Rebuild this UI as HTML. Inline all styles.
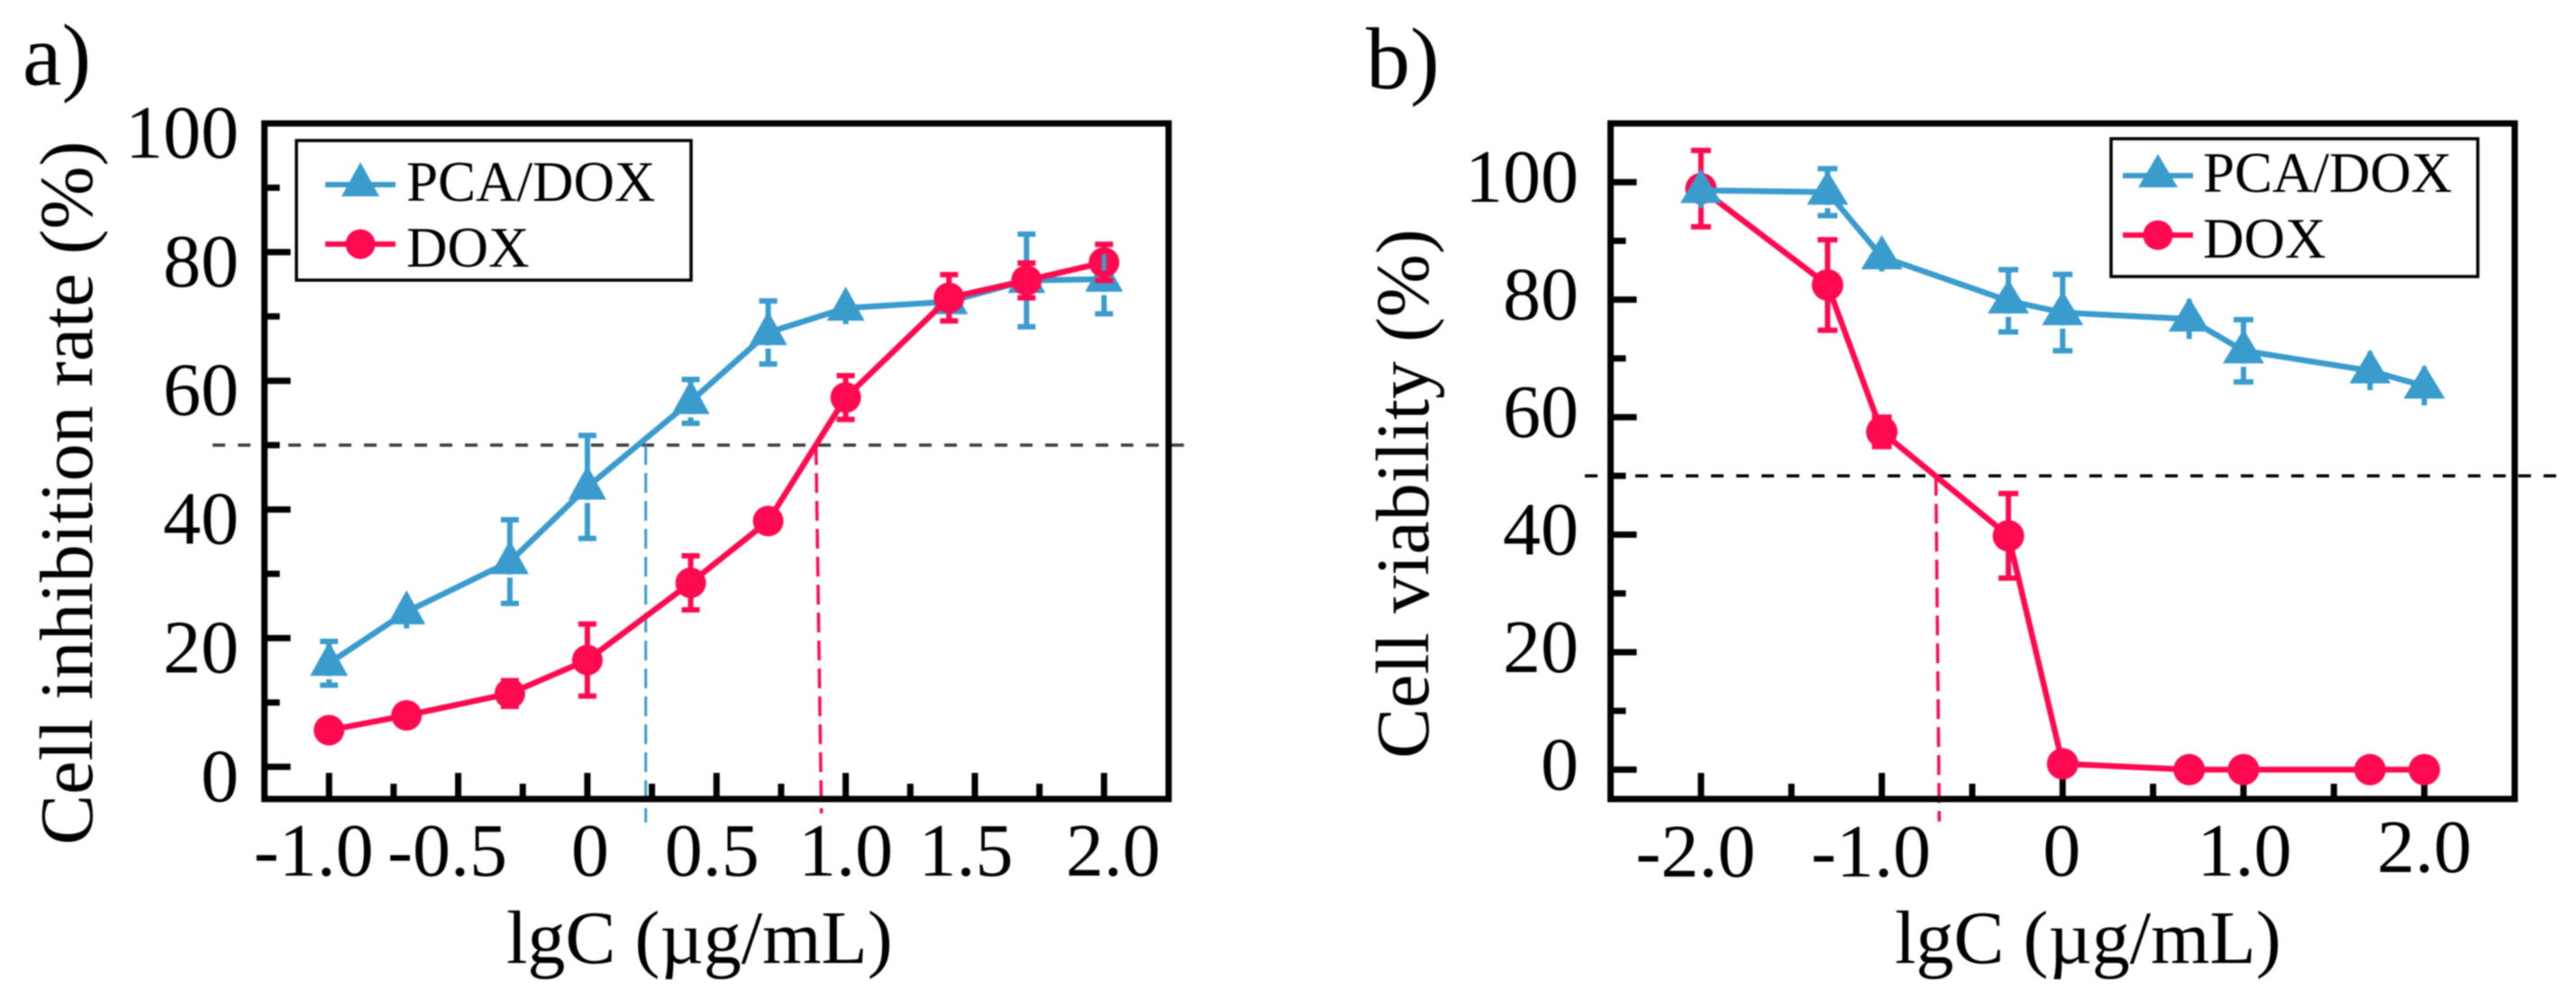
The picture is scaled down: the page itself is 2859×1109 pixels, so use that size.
<!DOCTYPE html>
<html lang="en">
<head>
<meta charset="utf-8">
<title>Cell inhibition rate and cell viability</title>
<style>
  html, body { margin: 0; padding: 0; background: #fff; }
  svg { display: block; filter: blur(0.8px); }
  text { font-family: "Liberation Serif", "Times New Roman", serif; fill: #000; }
</style>
</head>
<body>
<svg id="figure" xmlns="http://www.w3.org/2000/svg" width="2859" height="1109" viewBox="0 0 2859 1109">
  <rect x="0" y="0" width="2859" height="1109" fill="#fff"/>

  <g id="panel-a">
    <text x="25" y="94" font-size="98">a)</text>
    <text transform="translate(102 938) rotate(-90)" font-size="84">Cell inhibition rate (%)</text>
    <text x="562" y="1069" font-size="84">lgC (µg/mL)</text>
  </g>

  <g id="panel-b">
    <text x="1516" y="98" font-size="98">b)</text>
    <text transform="translate(1585 842) rotate(-90)" font-size="84">Cell viability (%)</text>
    <text x="2103" y="1069" font-size="84">lgC (µg/mL)</text>
  </g>

  <g id="legend-a">
    <rect x="329" y="156" width="438" height="155" fill="#fff" stroke="#000" stroke-width="3.5"/>
    <g>
      <line x1="361" y1="205" x2="439" y2="205" stroke="#3a9bcd" stroke-width="6"/>
      <polygon points="400,180 379,218 421,218" fill="#3a9bcd"/>
      <text x="451" y="223" font-size="63">PCA/DOX</text>
    </g>
    <g>
      <line x1="361" y1="271" x2="439" y2="271" stroke="#ff0a50" stroke-width="6"/>
      <circle cx="400" cy="271" r="16.5" fill="#ff0a50"/>
      <text x="451" y="296" font-size="63">DOX</text>
    </g>
  </g>

  <g id="legend-b">
    <rect x="2343" y="154" width="407" height="153" fill="#fff" stroke="#000" stroke-width="3.5"/>
    <g>
      <line x1="2356" y1="195" x2="2434" y2="195" stroke="#3a9bcd" stroke-width="6"/>
      <polygon points="2395,171 2373,208 2417,208" fill="#3a9bcd"/>
      <text x="2445" y="213" font-size="63">PCA/DOX</text>
    </g>
    <g>
      <line x1="2356" y1="261" x2="2434" y2="261" stroke="#ff0a50" stroke-width="6"/>
      <circle cx="2395" cy="261" r="16.5" fill="#ff0a50"/>
      <text x="2445" y="286" font-size="63">DOX</text>
    </g>
  </g>
</svg>

<script>
// ---------- Panel a data ----------
const concentrationA = [-1.0, -0.7, -0.3, 0, 0.4, 0.7, 1.0, 1.4, 1.7, 2.0];
const pcaMeanA = [16.1, 24.1, 31.9, 43.5, 56.8, 67.5, 71.3, 72.3, 75.6, 75.8];
const pcaErrorA = [3.4, 2.6, 6.5, 8.0, 3.4, 4.9, 2.5, 3.0, 7.2, 5.4];
const doxMeanA = [5.7, 8.0, 11.4, 16.6, 28.6, 38.2, 57.4, 72.9, 75.6, 78.4];
const doxErrorA = [1.5, 1.3, 2.0, 5.6, 4.2, 1.5, 3.4, 3.6, 2.7, 2.8];
const thresholdA = 50;
const ic50PcaA = [0.226, 0.226];
const ic50DoxA = [0.885, 0.906];
const yTicksA = [0, 20, 40, 60, 80, 100];
const yMinorTicksA = [10, 30, 50, 70, 90];
const xTicksA = [-1.0, -0.5, 0, 0.5, 1.0, 1.5, 2.0];
const xTickLabelsA = ['-1.0', '-0.5', '0', '0.5', '1.0', '1.5', '2.0'];
const xMinorTicksA = [-0.75, -0.25, 0.25, 0.75, 1.25, 1.75];

// ---------- Panel b data ----------
const concentrationB = [-2.0, -1.3, -1.0, -0.3, 0, 0.7, 1.0, 1.7, 2.0];
const pcaMeanB = [98.6, 98.3, 87.3, 79.8, 77.8, 76.7, 71.3, 67.9, 65.3];
const pcaErrorB = [3.0, 4.0, 2.5, 5.3, 6.5, 3.4, 5.3, 3.3, 3.3];
const doxMeanB = [98.9, 82.5, 57.5, 39.8, 1.0, 0, 0, 0, 0];
const doxErrorB = [6.5, 7.7, 2.5, 7.2, 0, 0, 0, 0, 0];
const thresholdB = 50;
const ic50DoxB = [-0.701, -0.682];
const yTicksB = [0, 20, 40, 60, 80, 100];
const yMinorTicksB = [10, 30, 50, 70, 90];
const xTicksB = [-2.0, -1.0, 0, 1.0, 2.0];
const xTickLabelsB = ['-2.0', '-1.0', '0', '1.0', '2.0'];
const xMinorTicksB = [-1.5, -0.5, 0.5, 1.5];

// Hand-placed label offsets seen in the original artwork (pixels)
const xLabelNudgeA = [-17, -12, 3, -5, 0, -10, 10];
const xLabelNudgeB = [-6, -12, -1, 1, 0];
const xLabelDropB = [973, 973, 972, 972, 968];

// ---------- Styling constants ----------
const BLUE = '#3a9bcd';
const PINK = '#ff0a50';
const NS = 'http://www.w3.org/2000/svg';
const figure = document.getElementById('figure');

function add(tag, attrs, parent) {
  const node = document.createElementNS(NS, tag);
  for (const key in attrs) node.setAttribute(key, attrs[key]);
  parent.appendChild(node);
  return node;
}

function linearScale(d0, d1, r0, r1) {
  return function (v) { return r0 + (v - d0) * (r1 - r0) / (d1 - d0); };
}

function errorPath(px, yHigh, yLow, capHalf) {
  return 'M' + px + ' ' + yHigh + 'V' + yLow +
    'M' + (px - capHalf) + ' ' + yHigh + 'H' + (px + capHalf) +
    'M' + (px - capHalf) + ' ' + yLow + 'H' + (px + capHalf);
}

function polyPoints(xs, ys, sx, sy) {
  return xs.map(function (v, i) { return sx(v) + ',' + sy(ys[i]); }).join(' ');
}

function drawDashed(host, opts) {
  const hLine = add('line', {
    x1: opts.hFrom, x2: opts.hTo, y1: opts.sy(opts.threshold), y2: opts.sy(opts.threshold),
    stroke: opts.hColor, 'stroke-width': 3.5, 'stroke-dasharray': '14 14'
  }, host);
  
  
}

function drawVertical(host, xPair, yEnd, threshold, sx, sy, color, width) {
  return add('line', {
    x1: sx(xPair[0]), x2: sx(xPair[1]), y1: sy(threshold), y2: yEnd,
    stroke: color, 'stroke-width': width, 'stroke-dasharray': '22 9'
  }, host);
}

function drawAxes(host, box, sx, sy, xTicks, xLabels, xMinor, yTicks, yMinor, labelOpts) {
  const frame = add('rect', {
    x: box.left, y: box.top, width: box.right - box.left, height: box.bottom - box.top,
    fill: 'none', stroke: '#000', 'stroke-width': 7
  }, host);
  
  

  xTicks.forEach(function (v, i) {
    const tick = add('line', {
      x1: sx(v), x2: sx(v), y1: box.bottom, y2: box.bottom - 29, stroke: '#000', 'stroke-width': 7
    }, host);
    
    

    const label = add('text', {
      x: sx(v) + labelOpts.nudge[i], y: labelOpts.baseline(i), 'font-size': 84, 'text-anchor': 'middle'
    }, host);
    label.textContent = xLabels[i];
    
    
  });

  xMinor.forEach(function (v) {
    const tick = add('line', {
      x1: sx(v), x2: sx(v), y1: box.bottom, y2: box.bottom - 17, stroke: '#000', 'stroke-width': 7
    }, host);
    
    
  });

  yTicks.forEach(function (v) {
    const tick = add('line', {
      x1: box.left, x2: box.left + 29, y1: sy(v), y2: sy(v), stroke: '#000', 'stroke-width': 7
    }, host);
    
    

    const label = add('text', {
      x: labelOpts.yLabelX, y: sy(v) + labelOpts.yLabelDrop, 'font-size': 84, 'text-anchor': 'end'
    }, host);
    label.textContent = String(v);
    
    
  });

  yMinor.forEach(function (v) {
    const tick = add('line', {
      x1: box.left, x2: box.left + 17, y1: sy(v), y2: sy(v), stroke: '#000', 'stroke-width': 7
    }, host);
    
    
  });
}

function drawPca(host, xs, means, errors, sx, sy, halfWidth, capHalf) {
  const group = add('g', {}, host);
  
  

  const line = add('polyline', {
    points: polyPoints(xs, means, sx, sy), fill: 'none', stroke: BLUE,
    'stroke-width': 6.5, 'stroke-linejoin': 'round'
  }, group);
  
  

  xs.forEach(function (v, i) {
    const px = sx(v);
    const py = sy(means[i]);
    // Short error bars disappear behind the triangle, leaving only the stem showing
    const hasCaps = (sy(means[i] - errors[i]) - py) >= 23;

    const bar = add('path', {
      d: errorPath(px, sy(means[i] + errors[i]), sy(means[i] - errors[i]), hasCaps ? capHalf : 0),
      fill: 'none', stroke: BLUE, 'stroke-width': 6
    }, group);
    
    

    if (hasCaps) {
      const gap = add('line', {
        x1: px - 5, x2: px + 5, y1: py + 16, y2: py + 16, stroke: '#fff', 'stroke-width': 3.5
      }, group);
      
      
    }

    const marker = add('polygon', {
      points: px + ',' + (py - 24) + ' ' + (px - halfWidth) + ',' + (py + 14) + ' ' + (px + halfWidth) + ',' + (py + 14),
      fill: BLUE
    }, group);
    
    
  });
}

function drawDox(host, xs, means, errors, sx, sy, radius, capHalf) {
  const group = add('g', {}, host);
  
  

  const line = add('polyline', {
    points: polyPoints(xs, means, sx, sy), fill: 'none', stroke: PINK,
    'stroke-width': 6.5, 'stroke-linejoin': 'round'
  }, group);
  
  

  xs.forEach(function (v, i) {
    const px = sx(v);
    const py = sy(means[i]);

    if (errors[i] > 0) {
      const bar = add('path', {
        d: errorPath(px, sy(means[i] + errors[i]), sy(means[i] - errors[i]), capHalf),
        fill: 'none', stroke: PINK, 'stroke-width': 6
      }, group);
      
      
    }

    const marker = add('circle', { cx: px, cy: py, r: radius, fill: PINK }, group);
    
    
  });
}

// ---------- Panel a ----------
const boxA = { left: 293.5, right: 1297, top: 137, bottom: 887 };
const sxA = linearScale(-1.25, 2.25, boxA.left, boxA.right);
const syA = linearScale(-5, 100, boxA.bottom, boxA.top);
const plotA = document.getElementById('panel-a');

drawDashed(plotA, { hFrom: 236, hTo: 1320, sy: syA, threshold: thresholdA, hColor: '#3c3c3c' });

const icBlueA = drawVertical(plotA, ic50PcaA, 913, thresholdA, sxA, syA, BLUE, 3);



const icPinkA = drawVertical(plotA, ic50DoxA, 903, thresholdA, sxA, syA, PINK, 3.5);



drawAxes(plotA, boxA, sxA, syA, xTicksA, xTickLabelsA, xMinorTicksA, yTicksA, yMinorTicksA, {
  nudge: xLabelNudgeA,
  baseline: function () { return 972; },
  yLabelX: 265,
  yLabelDrop: 38
});

drawPca(plotA, concentrationA, pcaMeanA, pcaErrorA, sxA, syA, 21, 10);
drawDox(plotA, concentrationA, doxMeanA, doxErrorA, sxA, syA, 17, 10);

const lastA = concentrationA.length - 1;
const overlapStem = add('line', {
  x1: sxA(concentrationA[lastA]), x2: sxA(concentrationA[lastA]),
  y1: syA(doxMeanA[lastA]) - 9, y2: syA(doxMeanA[lastA]) + 9,
  stroke: BLUE, 'stroke-width': 5
}, plotA);



// ---------- Panel b ----------
const boxB = { left: 1787.5, right: 2791, top: 137, bottom: 887 };
const sxB = linearScale(-2.5, 2.5, boxB.left, boxB.right);
const syB = linearScale(-5, 110, boxB.bottom, boxB.top);
const plotB = document.getElementById('panel-b');

drawDashed(plotB, { hFrom: 1759, hTo: 2840, sy: syB, threshold: thresholdB, hColor: '#000' });

const icPinkB = drawVertical(plotB, ic50DoxB, 912, thresholdB, sxB, syB, PINK, 3.5);



drawAxes(plotB, boxB, sxB, syB, xTicksB, xTickLabelsB, xMinorTicksB, yTicksB, yMinorTicksB, {
  nudge: xLabelNudgeB,
  baseline: function (i) { return xLabelDropB[i]; },
  yLabelX: 1752,
  yLabelDrop: 22
});

drawDox(plotB, concentrationB, doxMeanB, doxErrorB, sxB, syB, 17.5, 11);
drawPca(plotB, concentrationB, pcaMeanB, pcaErrorB, sxB, syB, 23, 11);

// Keep legends above the plotted marks
figure.appendChild(document.getElementById('legend-a'));
figure.appendChild(document.getElementById('legend-b'));
</script>
</body>
</html>
